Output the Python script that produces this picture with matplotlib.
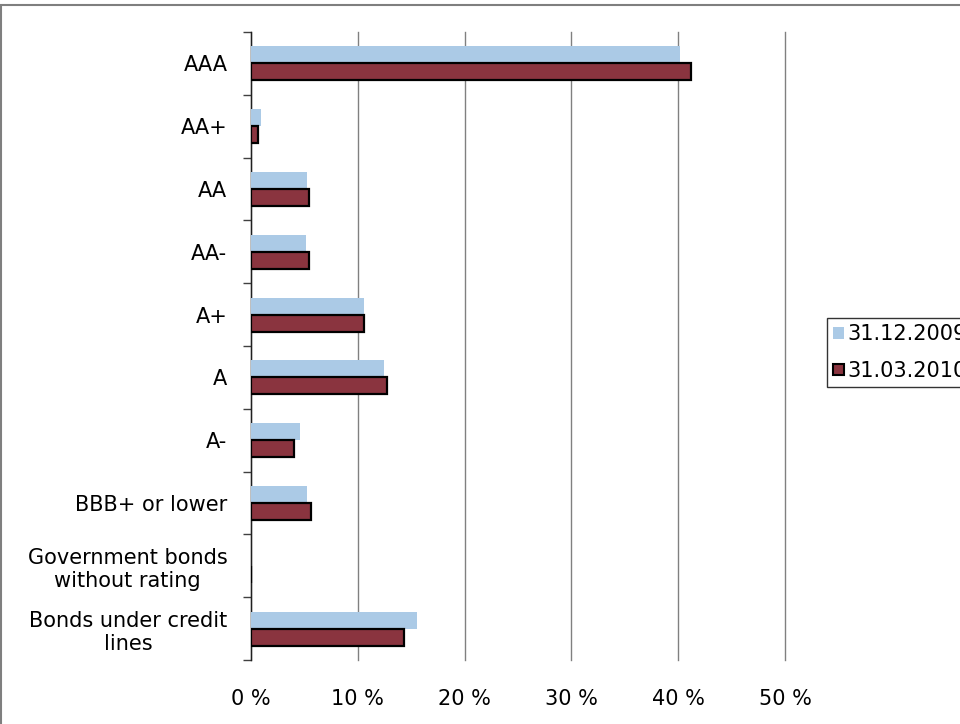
import numpy as np
import matplotlib
matplotlib.use("Agg")
import matplotlib.pyplot as plt
import matplotlib.patches as mpatches

# Données
categories = ["AAA", "AA+", "AA", "AA-", "A+", "A", "A-", "BBB+ or lower",
              "Government bonds\nwithout rating", "Bonds under credit\nlines"]
val_2009 = [40.2, 0.9, 5.2, 5.15, 10.6, 12.45, 4.6, 5.25, 0.0, 15.5]
val_2010 = [41.2, 0.7, 5.45, 5.4, 10.55, 12.7, 4.05, 5.65, 0.0, 14.3]
labels = ["31.12.2009", "31.03.2010"]
xticks = [0, 10, 20, 30, 40, 50]

col_light = "#abcae6"
col_dark = "#8a343f"
fs = 15

plt.rcParams['font.family'] = ['DejaVu Sans']

fig = plt.figure(figsize=(9.6, 7.24), dpi=100)
ax = fig.add_axes([251/960, 1 - 660/724, (785 - 251)/960, (660 - 32)/724])

y = np.arange(len(categories))
h = 0.27
ax.barh(y - h/2, val_2009, height=h, color=col_light, edgecolor="none",
        label=labels[0], zorder=3)
ax.barh(y + h/2, val_2010, height=h, color=col_dark, edgecolor="black",
        linewidth=1.6, label=labels[1], zorder=3)

ax.set_xlim(0, 50)
ax.set_ylim(len(categories) - 0.5, -0.5)

# axe x
ax.set_xticks(xticks)
ax.set_xticklabels([f"{v} %" for v in xticks], fontsize=fs)
ax.tick_params(axis='x', length=0, pad=21)
ax.grid(axis='x', color="#808080", linewidth=1, zorder=0)
for gl in ax.get_xgridlines():
    gl.set_clip_on(False)

# axe y : étiquettes au centre, graduations aux limites
ax.set_yticks(y)
ax.set_yticklabels(categories, fontsize=fs, multialignment='center')
ax.tick_params(axis='y', which='major', length=0, pad=17)
ax.set_yticks(np.arange(len(categories) + 1) - 0.5, minor=True)
ax.tick_params(axis='y', which='minor', length=6, width=1, color="#404040")

for s in ["top", "right", "bottom"]:
    ax.spines[s].set_visible(False)
ax.spines["left"].set_color("#202020")
ax.spines["left"].set_linewidth(1)

# légende
light_patch = mpatches.Patch(facecolor=col_light, edgecolor="none", label=labels[0])
dark_patch = mpatches.Patch(facecolor=col_dark, edgecolor="black", linewidth=1.5, label=labels[1])
leg = fig.legend(handles=[light_patch, dark_patch], loc='upper left',
                 bbox_to_anchor=(827/960, 1 - 318/724), fontsize=fs,
                 frameon=True, fancybox=False, borderaxespad=0,
                 handlelength=0.5, handleheight=0.5,
                 handletextpad=0.2, borderpad=0.3, labelspacing=0.8)
leg.get_frame().set_edgecolor("black")
leg.get_frame().set_linewidth(1)

# cadre du graphique
fig.patches.append(mpatches.Rectangle((0.5/960, -0.1), 1.2, 1.1 - 5/724,
                                      transform=fig.transFigure, fill=False,
                                      edgecolor="#7f7f7f", linewidth=1.5))

fig.savefig("out.png", dpi=100)
